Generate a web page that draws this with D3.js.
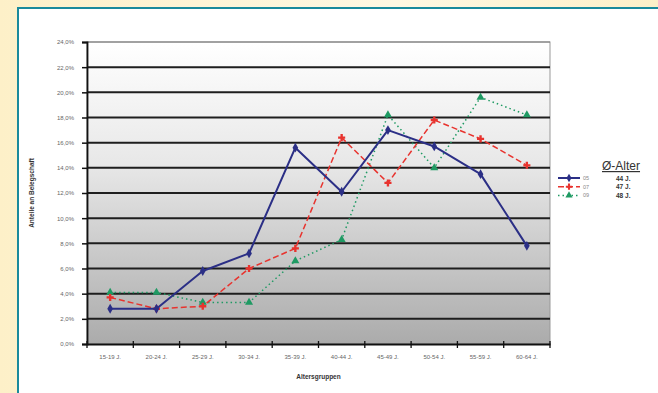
<!DOCTYPE html>
<html>
<head>
<meta charset="utf-8">
<script src="https://cdn.jsdelivr.net/npm/d3@7"></script>
<style>
  html, body { margin: 0; padding: 0; background: #fdf4d6; }
  svg { display: block; font-family: Arial, "Liberation Sans", sans-serif; }
</style>
</head>
<body>
<svg id="chart" width="658" height="393"></svg>
<script>
const ageGroups = ["15-19 J.", "20-24 J.", "25-29 J.", "30-34 J.", "35-39 J.",
    "40-44 J.", "45-49 J.", "50-54 J.", "55-59 J.", "60-64 J."];
const seriesNames = ["05", "07", "09"];
const avgAge = ["44 J.", "47 J.", "48 J."];
const values05 = [2.8, 2.8, 5.8, 7.2, 15.6, 12.1, 17.0, 15.7, 13.5, 7.8];
const values07 = [3.7, 2.8, 3.0, 6.0, 7.6, 16.4, 12.8, 17.8, 16.3, 14.2];
const values09 = [4.1, 4.1, 3.3, 3.3, 6.6, 8.3, 18.2, 14.0, 19.6, 18.2];
const yTicks = d3.range(0, 25, 2);

const svg = d3.select("#chart");
const W = 658, H = 393;
const margin = { top: 42, right: 108, bottom: 49, left: 87 };

// page background + teal frame
const defs = svg.append("defs");
const bg = defs.append("linearGradient").attr("id", "pagebg").attr("x1", 0).attr("x2", 1);
bg.append("stop").attr("offset", "0%").attr("stop-color", "#fdf0c8");
bg.append("stop").attr("offset", "60%").attr("stop-color", "#fff8e2");
bg.append("stop").attr("offset", "100%").attr("stop-color", "#fdf0c8");
svg.append("rect").attr("width", W).attr("height", H).attr("fill", "url(#pagebg)");
svg.append("rect").attr("x", 18).attr("y", 8).attr("width", W).attr("height", H)
    .attr("fill", "#fff").attr("stroke", "#1a8a9c").attr("stroke-width", 2);

const plotGrad = defs.append("linearGradient").attr("id", "plotbg")
    .attr("x1", 0).attr("x2", 0).attr("y1", 0).attr("y2", 1);
plotGrad.append("stop").attr("offset", "0%").attr("stop-color", "#ffffff");
plotGrad.append("stop").attr("offset", "40%").attr("stop-color", "#e8e8e8");
plotGrad.append("stop").attr("offset", "100%").attr("stop-color", "#ababab");

const x = d3.scaleBand().domain(ageGroups)
    .range([margin.left, W - margin.right]);
const y = d3.scaleLinear().domain([0, 24])
    .range([H - margin.bottom, margin.top]);

svg.append("rect")
    .attr("x", x.range()[0]).attr("y", y(24))
    .attr("width", x.range()[1] - x.range()[0]).attr("height", y(0) - y(24))
    .attr("fill", "url(#plotbg)").attr("stroke", "#999").attr("stroke-width", 1);

// gridlines
svg.append("g").selectAll("line").data(yTicks.slice(1)).join("line")
    .attr("x1", x.range()[0]).attr("x2", x.range()[1])
    .attr("y1", d => y(d)).attr("y2", d => y(d))
    .attr("stroke", d => d === 24 ? "#777" : "#1e1e1e")
    .attr("stroke-width", d => d === 24 ? 1 : 2);

const fmt = d => d.toFixed(1).replace(".", ",") + "%";

// y axis
const yAxis = svg.append("g")
    .attr("transform", `translate(${margin.left},0)`)
    .call(d3.axisLeft(y).tickValues(yTicks).tickFormat(fmt).tickSize(5).tickPadding(8));
yAxis.select(".domain").attr("stroke", "#111").attr("stroke-width", 1.8);
yAxis.selectAll(".tick line").attr("stroke", "#111").attr("stroke-width", 1.5);
yAxis.selectAll("text").attr("font-size", 6).attr("fill", "#666");

// x axis with ticks at category boundaries
const xAxis = svg.append("g")
    .attr("transform", `translate(0,${y(0)})`)
    .call(d3.axisBottom(x).tickSize(0).tickPadding(11));
xAxis.select(".domain").attr("stroke", "#111").attr("stroke-width", 1.8);
xAxis.selectAll("text").attr("font-size", 6).attr("fill", "#666");
xAxis.append("g").selectAll("line")
    .data(ageGroups.concat([null]))
    .join("line")
    .attr("x1", (d, i) => i < ageGroups.length ? x(d) : x.range()[1])
    .attr("x2", (d, i) => i < ageGroups.length ? x(d) : x.range()[1])
    .attr("y1", -3).attr("y2", 4)
    .attr("stroke", "#111").attr("stroke-width", 1.3);

// axis titles
svg.append("text")
    .attr("x", (x.range()[0] + x.range()[1]) / 2).attr("y", 379)
    .attr("text-anchor", "middle").attr("font-size", 6.5).attr("font-weight", "bold")
    .attr("fill", "#333").text("Altersgruppen");
svg.append("text")
    .attr("transform", `translate(34,${(y(0) + y(24)) / 2}) rotate(-90)`)
    .attr("text-anchor", "middle").attr("font-size", 6.5).attr("font-weight", "bold")
    .attr("fill", "#333").text("Anteile an Belegschaft");

// series
const series = [
    { name: seriesNames[0], age: avgAge[0], values: values05, color: "#2b2f86", dash: null, width: 2, marker: d3.symbolDiamond },
    { name: seriesNames[1], age: avgAge[1], values: values07, color: "#e8332e", dash: "6,3", width: 1.5, marker: d3.symbolCross },
    { name: seriesNames[2], age: avgAge[2], values: values09, color: "#1f9a63", dash: "1.5,3", width: 1.5, marker: d3.symbolTriangle }
];

const line = d3.line()
    .x((d, i) => x(ageGroups[i]) + x.bandwidth() / 2)
    .y(d => y(d));

// draw in reverse so blue sits on top
series.slice().reverse().forEach(s => {
    const g = svg.append("g");
    g.append("path")
        .attr("d", line(s.values))
        .attr("fill", "none")
        .attr("stroke", s.color)
        .attr("stroke-width", s.width)
        .attr("stroke-dasharray", s.dash)
        .attr("stroke-linejoin", "round");
    g.selectAll("path.mk").data(s.values).join("path")
        .attr("class", "mk")
        .attr("transform", (d, i) => `translate(${x(ageGroups[i]) + x.bandwidth() / 2},${y(d)})`)
        .attr("d", d3.symbol().type(s.marker).size(28))
        .attr("fill", s.color);
});

// legend
const lg = svg.append("g").attr("transform", "translate(558,0)");
lg.append("text")
    .attr("x", 44).attr("y", 170)
    .attr("font-size", 12).attr("fill", "#333")
    .attr("text-decoration", "underline")
    .text("Ø-Alter");
series.forEach((s, i) => {
    const yy = 178 + i * 8.7;
    lg.append("line").attr("x1", 0).attr("x2", 22).attr("y1", yy).attr("y2", yy)
        .attr("stroke", s.color).attr("stroke-width", s.width)
        .attr("stroke-dasharray", s.dash);
    lg.append("path").attr("transform", `translate(11,${yy})`)
        .attr("d", d3.symbol().type(s.marker).size(22)).attr("fill", s.color);
    lg.append("text").attr("x", 25).attr("y", yy + 2)
        .attr("font-size", 5.5).attr("fill", "#888").text(s.name);
    lg.append("text").attr("x", 58).attr("y", yy + 2.5)
        .attr("font-size", 6.5).attr("font-weight", "bold").attr("fill", "#333").text(s.age);
});
</script>
</body>
</html>
